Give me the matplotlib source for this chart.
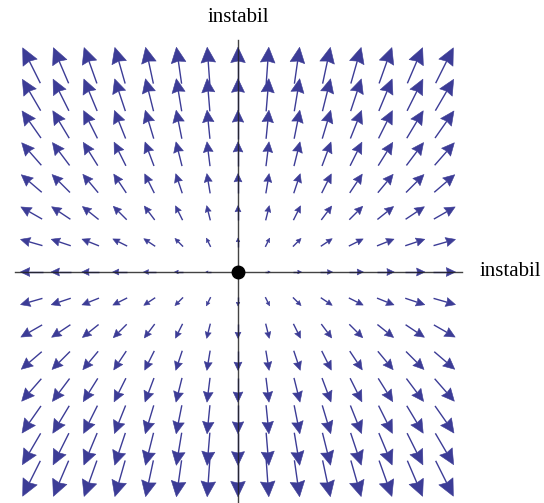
import numpy as np
import matplotlib.pyplot as plt
from matplotlib.collections import LineCollection, PolyCollection

# Linear system x' = A x (unstable node, both eigenvalues positive)
A = [[1.0, 0.0],
     [0.0, 2.0]]

# Sample points of the vector field
grid_x = [-7, -6, -5, -4, -3, -2, -1, 0, 1, 2, 3, 4, 5, 6, 7]
grid_y = [-7, -6, -5, -4, -3, -2, -1, 0, 1, 2, 3, 4, 5, 6, 7]

axis_label_x = "instabil"
axis_label_y = "instabil"

arrow_color = "#3c3c96"

X, Y = np.meshgrid(grid_x, grid_y)
U = A[0][0] * X + A[0][1] * Y
V = A[1][0] * X + A[1][1] * Y
mag = np.hypot(U, V)

# arrow lengths grow sub-linearly with the magnitude
L_max = 1.34
length = np.where(mag > 0, L_max * (mag / mag.max()) ** 0.72, 0.0)

fig = plt.figure(figsize=(5.44, 5.03), dpi=100)
ax = fig.add_axes([0, 0, 1, 1])
ax.set_xlim(-238 / 29.5, (544 - 238) / 29.5)
ax.set_ylim((272 - 503) / 29.5, 272 / 29.5)
ax.axis("off")

shafts = []
heads = []
for u, v, x0, y0, L in zip(U.ravel(), V.ravel(), X.ravel(), Y.ravel(), length.ravel()):
    if L == 0:
        continue
    d = np.array([u, v]) / np.hypot(u, v)
    n = np.array([-d[1], d[0]])
    c = np.array([x0, y0], dtype=float)
    tip = c + d * L / 2
    tail = c - d * L / 2
    hl = 0.42 * L
    hw = 0.2 * L
    base = tip - d * hl
    notch = tip - d * hl * 0.9
    shafts.append([tail, notch])
    heads.append([tip, base + n * hw, notch, base - n * hw])

ax.add_collection(LineCollection(shafts, colors=arrow_color, linewidths=1.0,
                                 capstyle="butt", zorder=2))
ax.add_collection(PolyCollection(heads, facecolors=arrow_color,
                                 edgecolors=arrow_color, linewidths=0.4, zorder=2))

# coordinate axes
ax.plot([-7.56, 7.59], [0, 0], color="#222222", lw=1.0, zorder=3, alpha=0.85)
ax.plot([0, 0], [-7.8, 7.86], color="#222222", lw=1.0, zorder=3, alpha=0.85)
ax.plot(0, 0, "o", color="black", markersize=9, zorder=4)

ax.text(0, 8.62, axis_label_y, ha="center", va="center",
        fontsize=15, family="Liberation Serif")
ax.text(8.2, 0.0, axis_label_x, ha="left", va="center",
        fontsize=15, family="Liberation Serif")

fig.savefig("out.png", dpi=100)
